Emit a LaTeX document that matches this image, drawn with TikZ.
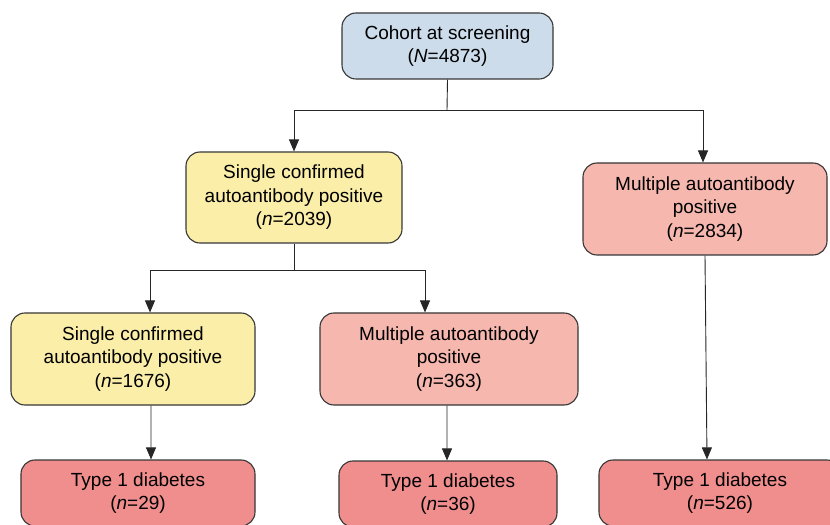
\documentclass[tikz,border=0pt]{standalone}
\usepackage{fontspec}
\setmainfont{Liberation Sans}
\usepackage{tikz}
\usetikzlibrary{positioning,arrows.meta}
\usepackage{xcolor}
\definecolor{cohortblue}{RGB}{205,220,234}
\definecolor{singleyellow}{RGB}{250,238,168}
\definecolor{multisalmon}{RGB}{245,183,174}
\definecolor{diabred}{RGB}{240,142,142}
\definecolor{edgegray}{RGB}{55,55,55}

\begin{document}
\begin{tikzpicture}[x=1bp,y=-1bp,
  box/.style={rectangle,rounded corners=14bp,draw=edgegray,line width=1.1bp,
    font=\fontsize{19bp}{23.5bp}\selectfont,align=center,inner sep=0pt},
  line/.style={black!85,line width=0.9bp},
  arr/.style={-{Triangle[width=10bp,length=12bp]},black!85,line width=0.9bp}
]
\clip (0,0) rectangle (830,525);
\fill[white] (0,0) rectangle (830,525);

\node[box,fill=cohortblue,minimum width=211bp,minimum height=66bp] (cohort) at (447.5,46)
  {Cohort at screening\\(\textit{N}=4873)};
\node[box,fill=singleyellow,minimum width=216bp,minimum height=91bp] (single) at (294,197.5)
  {Single confirmed\\autoantibody positive\\(\textit{n}=2039)};
\node[box,fill=multisalmon,minimum width=244bp,minimum height=92bp] (multi) at (705,209)
  {Multiple autoantibody\\positive\\(\textit{n}=2834)};
\node[box,fill=singleyellow,minimum width=244bp,minimum height=92bp] (single2) at (133,359)
  {Single confirmed\\autoantibody positive\\(\textit{n}=1676)};
\node[box,fill=multisalmon,minimum width=258bp,minimum height=92bp] (multi2) at (449,359)
  {Multiple autoantibody\\positive\\(\textit{n}=363)};
\node[box,fill=diabred,minimum width=234bp,minimum height=66bp] (t1d1) at (138,493)
  {Type 1 diabetes\\(\textit{n}=29)};
\node[box,fill=diabred,minimum width=218bp,minimum height=66bp] (t1d2) at (448,494)
  {Type 1 diabetes\\(\textit{n}=36)};
\node[box,fill=diabred,minimum width=242bp,minimum height=66bp] (t1d3) at (720,493)
  {Type 1 diabetes\\(\textit{n}=526)};

% splits
\coordinate (split1) at (447,110);
\coordinate (split2) at (294,270);
\draw[line] (cohort.south) -- (split1);
\draw[arr] (split1) -| (single.north);
\draw[arr] (split1) -| ([xshift=-2bp]multi.north);
\draw[line] (single.south) -- (split2);
\draw[arr] (split2) -| ([xshift=17bp]single2.north);
\draw[arr] (split2) -| ([xshift=-24bp]multi2.north);

% outcomes
\draw[arr] ([xshift=18bp]single2.south) -- ([xshift=13bp]t1d1.north);
\draw[arr] ([xshift=-2bp]multi2.south) -- ([xshift=-1bp]t1d2.north);
\draw[arr] (multi.south) -- ([xshift=-13bp]t1d3.north);
\end{tikzpicture}
\end{document}
